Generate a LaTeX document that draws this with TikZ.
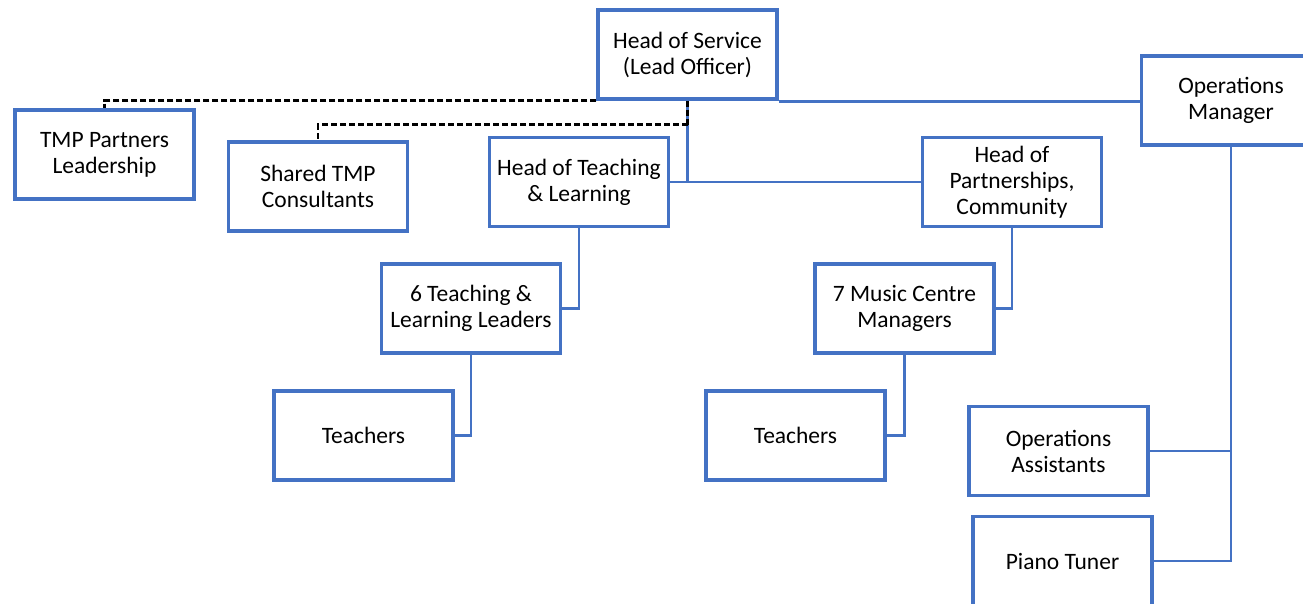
\documentclass[tikz,border=0pt]{standalone}
\usepackage{fontspec}
\setmainfont{Carlito}
\begin{document}
\definecolor{boxblue}{HTML}{4472C4}
\begin{tikzpicture}[x=1pt,y=-1pt,
  orgbox/.style={draw=boxblue,line width=3.2pt,fill=white,rectangle,
    minimum width=179pt,minimum height=89pt,inner sep=0pt,align=center,
    font=\fontsize{23.5}{26}\selectfont},
  link/.style={draw=boxblue,line width=2.8pt},
  dotted link/.style={draw=black,line width=2.8pt,dash pattern=on 6pt off 3pt}]
\clip (0,0) rectangle (1303,603);

% boxes
\node[orgbox] (hos)    at (687.5,54.5)  {Head of Service\\(Lead Officer)};
\node[orgbox] (ops)    at (1231,100.5)  {Operations\\Manager};
\node[orgbox] (tmp)    at (104.5,154.5) {TMP Partners\\Leadership};
\node[orgbox] (shared) at (318,186.5)   {Shared TMP\\Consultants};
\node[orgbox] (hotl)   at (579,182)     {Head of Teaching\\\& Learning};
\node[orgbox] (hop)    at (1012,182)    {Head of\\Partnerships,\\Community};
\node[orgbox] (tll)    at (471,308.5)   {6 Teaching \&\\Learning Leaders};
\node[orgbox] (mcm)    at (904.5,308.5) {7 Music Centre\\Managers};
\node[orgbox] (teachL) at (363.5,435.5) {Teachers};
\node[orgbox] (teachR) at (795.5,435.5) {Teachers};
\node[orgbox] (opsA)   at (1058.5,451)  {Operations\\Assistants};
\node[orgbox] (piano)  at (1062.5,561)  {Piano Tuner};

% solid reporting lines
\draw[link] (hos.south) -- (hos.south |- hotl.east);
\draw[link] (hotl.east) -- (hop.west);
\draw[link] ([yshift=-1pt]hos.south east) -- ([yshift=-1pt]ops.west |- hos.south east);
\draw[link] (hotl.south) |- (tll.east);
\draw[link] (tll.south) |- (teachL.east);
\draw[link] (hop.south) |- (mcm.east);
\draw[link] (mcm.south) |- (teachR.east);
\draw[link] (ops.south) |- (piano.east);
\draw[link] (opsA.east) -- (ops.south |- opsA.east);

% partnership (dashed) lines
\coordinate (dj) at ([yshift=-24pt]hos.south);
\draw[dotted link] (hos.south west) -| (tmp.north);
\draw[dotted link] (hos.south) -- (dj);
\draw[dotted link] (dj) -| (shared.north);
\end{tikzpicture}
\end{document}
